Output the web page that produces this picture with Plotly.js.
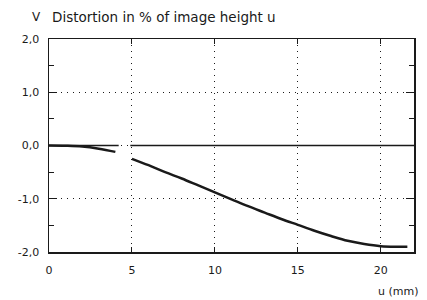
<!DOCTYPE html>
<html>
<head>
<meta charset="utf-8">
<script src="https://cdn.plot.ly/plotly-3.0.1.min.js"></script>
<style>html,body{margin:0;padding:0;background:#fff}#chart{width:427px;height:300px}</style>
</head>
<body>
<div id="chart"></div>
<script>
// Distortion curve, first branch (u from 0 to ~4 mm)
var uNear = [0, 1, 2, 3, 4];
var vNear = [0, -0.005, -0.02, -0.06, -0.12];
// Distortion curve, second branch (u from 5 to ~21.6 mm)
var uFar = [5, 6, 7, 8, 9, 10, 11, 12, 13, 14, 15, 16, 17, 18, 19, 20, 21, 21.6];
var vFar = [-0.25, -0.37, -0.5, -0.62, -0.75, -0.88, -1.01, -1.14, -1.26, -1.38, -1.49, -1.6, -1.7, -1.79, -1.85, -1.89, -1.9, -1.9];
// zero reference line (with a small gap as in the original)
var uZero = [0, 4.2, null, 4.9, 22];
var vZero = [0, 0, null, 0, 0];
var xTicks = [0, 5, 10, 15, 20];
var yTicks = [-2, -1, 0, 1, 2];
var yTickText = yTicks.map(function (v) { return v.toFixed(1).replace('.', ','); });

var ink = '#1a1a1a';
var font = {family: 'DejaVu Sans, Liberation Sans, sans-serif', size: 11, color: ink};

var traces = [
  {x: uZero, y: vZero, mode: 'lines', line: {color: ink, width: 1.5}, hoverinfo: 'skip', showlegend: false},
  {x: uNear, y: vNear, mode: 'lines', line: {color: ink, width: 2.5, shape: 'spline'}, showlegend: false},
  {x: uFar, y: vFar, mode: 'lines', line: {color: ink, width: 2.5, shape: 'spline'}, showlegend: false}
];

var layout = {
  width: 427, height: 300,
  margin: {l: 49, r: 13, t: 39, b: 48},
  paper_bgcolor: '#fff', plot_bgcolor: '#fff',
  font: font,
  showlegend: false,
  title: {text: 'Distortion in % of image height u', x: 52/427, xanchor: 'left', y: 1 - 17/300, yanchor: 'middle', font: {family: font.family, size: 13.5, color: ink}},
  xaxis: {
    range: [0, 22], tickvals: xTicks, ticktext: xTicks.map(String),
    showline: true, linecolor: ink, linewidth: 1.5, mirror: 'allticks',
    ticks: 'inside', ticklen: 5, tickcolor: ink, tickwidth: 1,
    showgrid: true, gridcolor: ink, griddash: '1px,5px', gridwidth: 1,
    zeroline: false, tickfont: font, ticklabelstandoff: 7
  },
  yaxis: {
    range: [-2, 2], tickvals: yTicks, ticktext: yTickText,
    showline: true, linecolor: ink, linewidth: 1.5, mirror: 'allticks',
    ticks: 'inside', ticklen: 8, tickcolor: ink, tickwidth: 1,
    minor: {dtick: 0.5, ticklen: 5, tickcolor: ink, ticks: 'inside', showgrid: false},
    showgrid: true, gridcolor: ink, griddash: '1px,5px', gridwidth: 1,
    zeroline: false, tickfont: font, ticklabelstandoff: 6
  },
  annotations: [
    {text: 'V', xref: 'paper', yref: 'paper', x: (36-49)/365, y: (252-17)/213, xanchor: 'center', yanchor: 'middle', showarrow: false, font: {family: font.family, size: 12, color: ink}},
    {text: 'u (mm)', xref: 'paper', yref: 'paper', x: (398-49)/365, y: (252-291)/213, xanchor: 'center', yanchor: 'middle', showarrow: false, font: {family: font.family, size: 11, color: ink}}
  ]
};

Plotly.newPlot('chart', traces, layout, {displayModeBar: false, staticPlot: true});
</script>
</body>
</html>
